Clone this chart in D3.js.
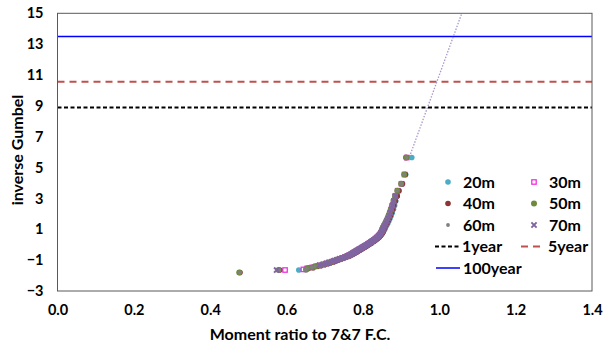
<!DOCTYPE html>
<html>
<head>
<meta charset="utf-8">
<script src="https://cdn.jsdelivr.net/npm/d3@7"></script>
<style>
  body { margin: 0; background: #fff; }
  text { font-family: Lato, "Open Sans", sans-serif; font-weight: bold; fill: #000; }
</style>
</head>
<body>
<svg id="chart" width="604" height="349"></svg>
<script>
// Gumbel reduced variate (y) shared by every depth series
var gumbelY = [-1.80, -1.64, -1.60, -1.53, -1.47, -1.40, -1.34, -1.28, -1.22, -1.16,
  -1.10, -1.04, -0.98, -0.92, -0.86, -0.80, -0.74, -0.68, -0.62, -0.56,
  -0.50, -0.44, -0.38, -0.32, -0.26, -0.20, -0.14, -0.08, -0.02, 0.04,
  0.10, 0.17, 0.24, 0.31, 0.39, 0.47, 0.56, 0.65, 0.75, 0.86,
  0.98, 1.10, 1.24, 1.38, 1.54, 1.70, 1.88, 2.08, 2.30, 2.55,
  2.83, 3.15, 3.50, 3.95, 4.55, 5.65];

// moment ratio per depth (null = no point at that rank)
var x20m = [null, 0.632, 0.648, 0.656, 0.669, 0.679, 0.689, 0.699, 0.707, 0.715,
  0.723, 0.729, 0.736, 0.743, 0.750, 0.757, 0.763, 0.768, 0.773, 0.777,
  0.781, 0.785, 0.789, 0.793, 0.797, 0.801, 0.805, 0.809, 0.813, 0.817,
  0.821, 0.825, 0.829, 0.833, 0.837, 0.841, 0.845, 0.848, 0.851, 0.854,
  0.857, 0.859, 0.862, 0.865, 0.868, 0.871, 0.874, 0.877, 0.880, 0.883,
  0.886, 0.890, 0.895, 0.904, 0.912, 0.928];
var x30m = [null, 0.596, 0.644, 0.654, 0.667, 0.677, 0.687, 0.696, 0.704, 0.711,
  0.719, 0.725, 0.732, 0.739, 0.746, 0.753, 0.759, 0.764, 0.769, 0.773,
  0.777, 0.781, 0.785, 0.789, 0.793, 0.797, 0.801, 0.805, 0.809, 0.813,
  0.817, 0.821, 0.825, 0.829, 0.833, 0.837, 0.841, 0.844, 0.847, 0.850,
  0.852, 0.854, 0.857, 0.860, 0.863, 0.866, 0.869, 0.872, 0.875, 0.878,
  0.881, 0.885, 0.891, 0.901, 0.909, 0.915];
var x40m = [0.478, 0.582, 0.652, 0.658, 0.670, 0.681, 0.690, 0.700, 0.709, 0.716,
  0.724, 0.730, 0.737, 0.744, 0.751, 0.758, 0.764, 0.769, 0.774, 0.778,
  0.782, 0.786, 0.790, 0.794, 0.798, 0.802, 0.806, 0.810, 0.814, 0.818,
  0.822, 0.826, 0.830, 0.834, 0.838, 0.842, 0.845, 0.848, 0.851, 0.853,
  0.855, 0.857, 0.860, 0.863, 0.866, 0.869, 0.872, 0.875, 0.878, 0.881,
  0.885, 0.890, 0.894, 0.903, 0.911, 0.913];
var x50m = [0.476, 0.579, 0.651, 0.655, 0.668, 0.677, 0.686, 0.695, 0.703, 0.710,
  0.718, 0.724, 0.731, 0.738, 0.745, 0.752, 0.758, 0.763, 0.768, 0.772,
  0.776, 0.780, 0.784, 0.788, 0.792, 0.796, 0.800, 0.804, 0.808, 0.812,
  0.816, 0.820, 0.824, 0.828, 0.832, 0.836, 0.840, 0.843, 0.846, 0.848,
  0.850, 0.852, 0.855, 0.858, 0.861, 0.864, 0.867, 0.870, 0.873, 0.876,
  0.880, 0.884, 0.890, 0.900, 0.908, 0.913];
var x60m = [0.477, 0.581, 0.650, 0.653, 0.666, 0.675, 0.684, 0.693, 0.701, 0.708,
  0.716, 0.722, 0.729, 0.736, 0.743, 0.750, 0.756, 0.761, 0.766, 0.770,
  0.774, 0.778, 0.782, 0.786, 0.790, 0.794, 0.798, 0.802, 0.806, 0.810,
  0.814, 0.818, 0.822, 0.826, 0.830, 0.834, 0.838, 0.841, 0.844, 0.847,
  0.849, 0.851, 0.854, 0.857, 0.860, 0.863, 0.866, 0.869, 0.872, 0.875,
  0.879, 0.883, 0.889, 0.900, 0.908, 0.914];
var x70m = [null, 0.574, null, null, null, null, 0.686, 0.696, 0.704, 0.711,
  0.719, 0.725, 0.732, 0.739, 0.746, 0.753, 0.759, 0.764, 0.769, 0.773,
  0.777, 0.781, 0.785, 0.789, 0.793, 0.797, 0.801, 0.805, 0.809, 0.813,
  0.817, 0.821, 0.825, 0.829, 0.833, 0.837, 0.841, 0.844, 0.847, 0.850,
  0.852, 0.854, 0.857, 0.860, 0.863, 0.866, 0.869, 0.872, 0.875, 0.878,
  0.881, 0.885, null, null, null, null];

// return-period levels
var levelNames = ["1year", "5year", "100year"];
var levelValues = [8.9, 10.56, 13.5];

// dotted extrapolation line
var trendX = [0.922, 1.059];
var trendY = [5.7, 15];

var xTicks = [0, 0.2, 0.4, 0.6, 0.8, 1.0, 1.2, 1.4];
var yTicks = [-3, -1, 1, 3, 5, 7, 9, 11, 13, 15];

var svg = d3.select("#chart");
var x = d3.scaleLinear().domain([0, 1.4]).range([57.5, 592]);
var y = d3.scaleLinear().domain([-3, 15]).range([291, 13.3]);

var series = [
  {name: "20m", xs: x20m, shape: "circle", color: "#4BACC6", r: 2.8},
  {name: "30m", xs: x30m, shape: "square", color: "#F030E0", r: 2.2},
  {name: "40m", xs: x40m, shape: "circle", color: "#8B3535", r: 2.8},
  {name: "50m", xs: x50m, shape: "circle", color: "#6E8B3D", r: 3},
  {name: "60m", xs: x60m, shape: "circle", color: "#808080", r: 1.9},
  {name: "70m", xs: x70m, shape: "cross", color: "#8064A2", r: 2.6}
];

function drawMarker(g, s, cx, cy) {
  if (s.shape == "circle") {
    g.append("circle").attr("cx", cx).attr("cy", cy).attr("r", s.r).attr("fill", s.color);
  } else if (s.shape == "square") {
    g.append("rect").attr("x", cx - s.r).attr("y", cy - s.r)
      .attr("width", s.r * 2).attr("height", s.r * 2)
      .attr("fill", "#fff").attr("stroke", s.color).attr("stroke-width", 1.3);
  } else {
    g.append("path")
      .attr("d", "M" + (cx - s.r) + "," + (cy - s.r) + "L" + (cx + s.r) + "," + (cy + s.r) +
                 "M" + (cx - s.r) + "," + (cy + s.r) + "L" + (cx + s.r) + "," + (cy - s.r))
      .attr("stroke", s.color).attr("stroke-width", 2);
  }
}

svg.append("clipPath").attr("id", "clip").append("rect")
  .attr("x", 57.5).attr("y", 13.3).attr("width", 534.5).attr("height", 277.7);

var plot = svg.append("g").attr("clip-path", "url(#clip)");

// level lines
var levelStyle = [
  {color: "#000", dash: "4,2.5", w: 2},
  {color: "#C0504D", dash: "7,5", w: 2},
  {color: "#0000FF", dash: null, w: 1.5}
];
levelValues.forEach(function (v, i) {
  plot.append("line")
    .attr("x1", x(0)).attr("x2", x(1.4))
    .attr("y1", y(v)).attr("y2", y(v))
    .attr("stroke", levelStyle[i].color)
    .attr("stroke-width", levelStyle[i].w)
    .attr("stroke-dasharray", levelStyle[i].dash);
});

// trend line
plot.append("line")
  .attr("x1", x(trendX[0])).attr("y1", y(trendY[0]))
  .attr("x2", x(trendX[1])).attr("y2", y(trendY[1]))
  .attr("stroke", "#A898CC").attr("stroke-width", 1.3)
  .attr("stroke-dasharray", "1.5,1.5");

// points
series.forEach(function (s) {
  var g = plot.append("g");
  s.xs.forEach(function (v, i) {
    if (v == null) return;
    drawMarker(g, s, x(v), y(gumbelY[i]));
  });
});

// frame
svg.append("rect").attr("x", 57.5).attr("y", 13.3).attr("width", 534.5).attr("height", 277.7)
  .attr("fill", "none").attr("stroke", "#595959").attr("stroke-width", 1);

// axes
var yAxis = svg.append("g").attr("transform", "translate(57.5,0)")
  .call(d3.axisLeft(y).tickValues(yTicks).tickSize(0).tickPadding(14).tickFormat(d3.format("d")));
var xAxis = svg.append("g").attr("transform", "translate(0,291)")
  .call(d3.axisBottom(x).tickValues(xTicks).tickSize(0).tickPadding(14).tickFormat(d3.format(".1f")));
[yAxis, xAxis].forEach(function (a) {
  a.select(".domain").remove();
  a.selectAll("text").style("font-size", "14.5px").style("font-family", "Lato, sans-serif").attr("fill", "#000");
});

svg.append("text").attr("x", 300).attr("y", 340).attr("text-anchor", "middle")
  .style("font-size", "16px").text("Moment ratio to 7&7 F.C.");
svg.append("text").attr("transform", "translate(17,150) rotate(-90)").attr("text-anchor", "middle")
  .attr("dy", "0.35em").style("font-size", "16px").text("inverse Gumbel");

// legend
var legRows = [182, 203.5, 225];
var legCols = [448, 534];
series.forEach(function (s, i) {
  var cx = legCols[i % 2], cy = legRows[Math.floor(i / 2)];
  var g = svg.append("g");
  drawMarker(g, s, cx, cy);
  g.append("text").attr("x", cx + 15).attr("y", cy).attr("dy", "0.35em")
    .style("font-size", "16px").text(s.name);
});
var lineLeg = [[435, 246.5], [521, 246.5], [436, 268]];
levelNames.forEach(function (n, i) {
  var p = lineLeg[i];
  svg.append("line").attr("x1", p[0]).attr("x2", p[0] + 24).attr("y1", p[1]).attr("y2", p[1])
    .attr("stroke", levelStyle[i].color).attr("stroke-width", levelStyle[i].w)
    .attr("stroke-dasharray", levelStyle[i].dash);
  svg.append("text").attr("x", p[0] + 27).attr("y", p[1]).attr("dy", "0.35em")
    .style("font-size", "16px").text(n);
});
</script>
</body>
</html>
